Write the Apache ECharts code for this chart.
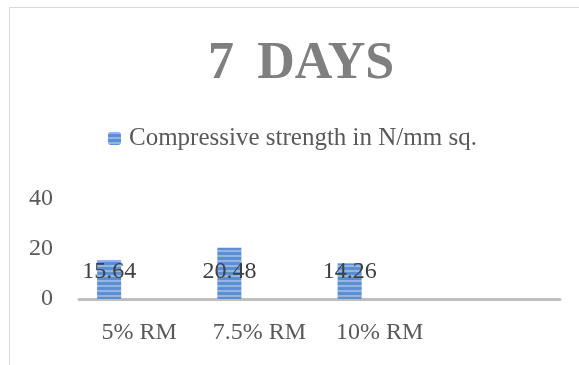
<!DOCTYPE html>
<html>
<head>
<meta charset="utf-8">
<script src="https://cdn.jsdelivr.net/npm/echarts@6/dist/echarts.min.js"></script>
<style>html,body{margin:0;padding:0;background:#fff;}#c{width:579px;height:365px;}</style>
</head>
<body>
<div id="c"></div>
<script>
const categories = ['5% RM', '7.5% RM', '10% RM', ''];
const strength7Days = [15.64, 20.48, 14.26, null];
const emptySeries = [null, null, null, null];
const yTicks = { min: 0, max: 40, interval: 20 };
const seriesName = 'Compressive strength in N/mm sq.';

const FONT = '"Liberation Serif", "DejaVu Serif", serif';
const chart = echarts.init(document.getElementById('c'), null, { renderer: 'canvas' });
const stripe = {
  symbol: 'rect', symbolSize: 1, dashArrayX: [1, 0], dashArrayY: [2, 3],
  rotation: 0, color: 'rgba(255,255,255,0.35)'
};
chart.setOption({
  animation: false,
  backgroundColor: '#fff',
  graphic: [{
    type: 'rect', shape: { x: 9.5, y: 7.5, width: 700, height: 500 },
    style: { fill: 'none', stroke: '#d9d9d9', lineWidth: 1 }, silent: true
  }],
  title: {
    text: '7\u2009 DAYS', left: 296, top: 34, textAlign: 'center',
    textStyle: { fontFamily: FONT, fontSize: 52, fontWeight: 'bold', color: '#7f7f7f' }
  },
  legend: {
    data: [seriesName], left: 108, top: 126, padding: 0, itemWidth: 13, itemHeight: 13,
    textStyle: { fontFamily: FONT, fontSize: 25, color: '#595959', padding: [0, 0, 0, 3] }
  },
  grid: { left: 79, right: 19, top: 199, bottom: 66 },
  xAxis: {
    type: 'category', data: categories,
    axisLine: { lineStyle: { color: '#bfbfbf', width: 3 } },
    axisTick: { show: false },
    axisLabel: { fontFamily: FONT, fontSize: 24, color: '#595959', margin: 22, interval: 0 }
  },
  yAxis: {
    type: 'value', min: yTicks.min, max: yTicks.max, interval: yTicks.interval,
    splitLine: { show: false }, axisLine: { show: false }, axisTick: { show: false },
    axisLabel: { fontFamily: FONT, fontSize: 24, color: '#595959', margin: 26 }
  },
  series: [{
    name: seriesName, type: 'bar', data: strength7Days, barWidth: 24, barGap: '150%',
    itemStyle: { color: '#5b8fd2', decal: stripe },
    label: {
      show: true, position: 'insideBottom', distance: 15,
      fontFamily: FONT, fontSize: 24, color: '#404040'
    }
  }, {
    name: 'spacer', type: 'bar', data: emptySeries, barWidth: 24
  }]
});
</script>
</body>
</html>
